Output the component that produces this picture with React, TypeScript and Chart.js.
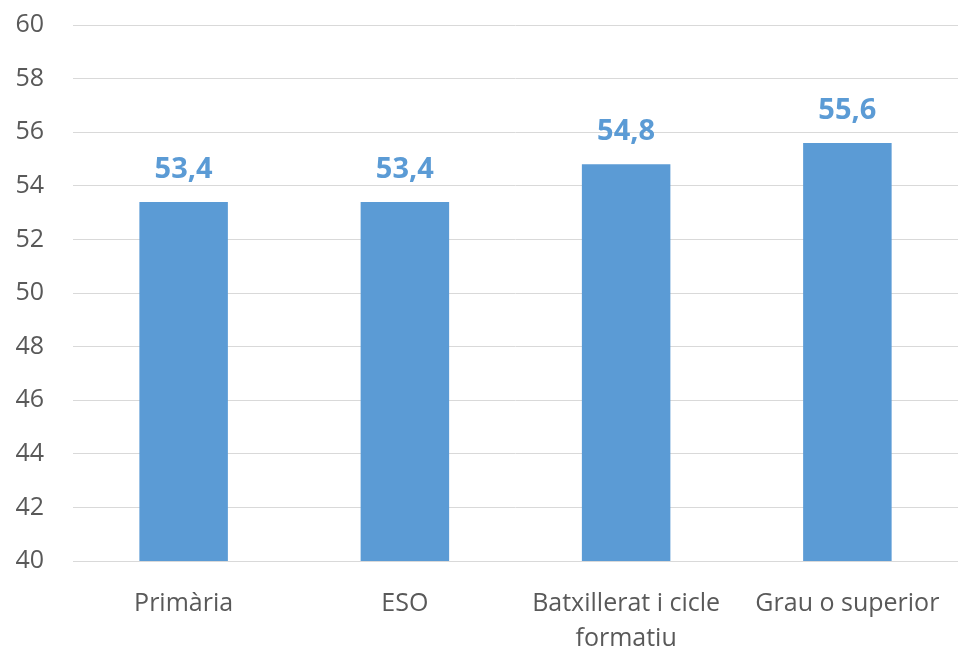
import React, { useEffect, useRef } from "react";
import { Chart, registerables } from "chart.js";

Chart.register(...registerables);

const categories: (string | string[])[] = ["Primària", "ESO", ["Batxillerat i cicle", "formatiu"], "Grau o superior"];
const values: number[] = [53.4, 53.4, 54.8, 55.6];
const yMin = 40;
const yMax = 60;
const yStep = 2;

const BLUE = "#5B9BD5";
const TEXT = "#595959";
const GRID = "#D9D9D9";
const FONT = "'Open Sans', 'Noto Sans', sans-serif";

const dataLabels = {
  id: "dataLabels",
  afterDatasetsDraw(chart: any) {
    const ctx = chart.ctx;
    const meta = chart.getDatasetMeta(0);
    ctx.save();
    ctx.fillStyle = BLUE;
    ctx.font = `bold 29px ${FONT}`;
    ctx.textAlign = "center";
    ctx.textBaseline = "alphabetic";
    meta.data.forEach((bar: any, i: number) => {
      const v = chart.data.datasets[0].data[i] as number;
      ctx.fillText(v.toFixed(1).replace(".", ","), bar.x, bar.y - 24);
    });
    ctx.restore();
  },
};

export default function App() {
  const ref = useRef<HTMLCanvasElement>(null);
  useEffect(() => {
    if (!ref.current) return;
    const chart = new Chart(ref.current, {
      type: "bar",
      data: {
        labels: categories,
        datasets: [
          {
            data: values,
            backgroundColor: BLUE,
            barPercentage: 0.4,
            categoryPercentage: 1,
          },
        ],
      },
      options: {
        animation: false,
        responsive: false,
        maintainAspectRatio: false,
        layout: { padding: { top: 25, right: 0, left: 0, bottom: 0 } },
        plugins: {
          legend: { display: false },
          tooltip: { enabled: false },
        },
        scales: {
          x: {
            grid: { display: false },
            border: { color: GRID, width: 1 },
            ticks: {
              color: TEXT,
              font: { family: FONT, size: 25, lineHeight: 1.4 },
              maxRotation: 0,
              autoSkip: false,
              padding: 17,
            },
            afterFit: (s: any) => {
              s.height = 86;
              s.paddingLeft = 0;
              s.paddingRight = 0;
            },
          },
          y: {
            min: yMin,
            max: yMax,
            grid: { color: GRID, lineWidth: 1, drawTicks: false },
            border: { display: false },
            ticks: {
              stepSize: yStep,
              color: TEXT,
              font: { family: FONT, size: 25 },
              padding: 29,
            },
            afterFit: (s: any) => {
              s.width = 73;
              s.paddingTop = 0;
              s.paddingBottom = 0;
            },
          },
        },
      },
      plugins: [dataLabels],
    });
    return () => chart.destroy();
  }, []);
  return (
    <div style={{ position: "fixed", left: 0, top: 0, width: 958, height: 647, background: "#fff" }}>
      <canvas ref={ref} width={958} height={647} />
    </div>
  );
}
